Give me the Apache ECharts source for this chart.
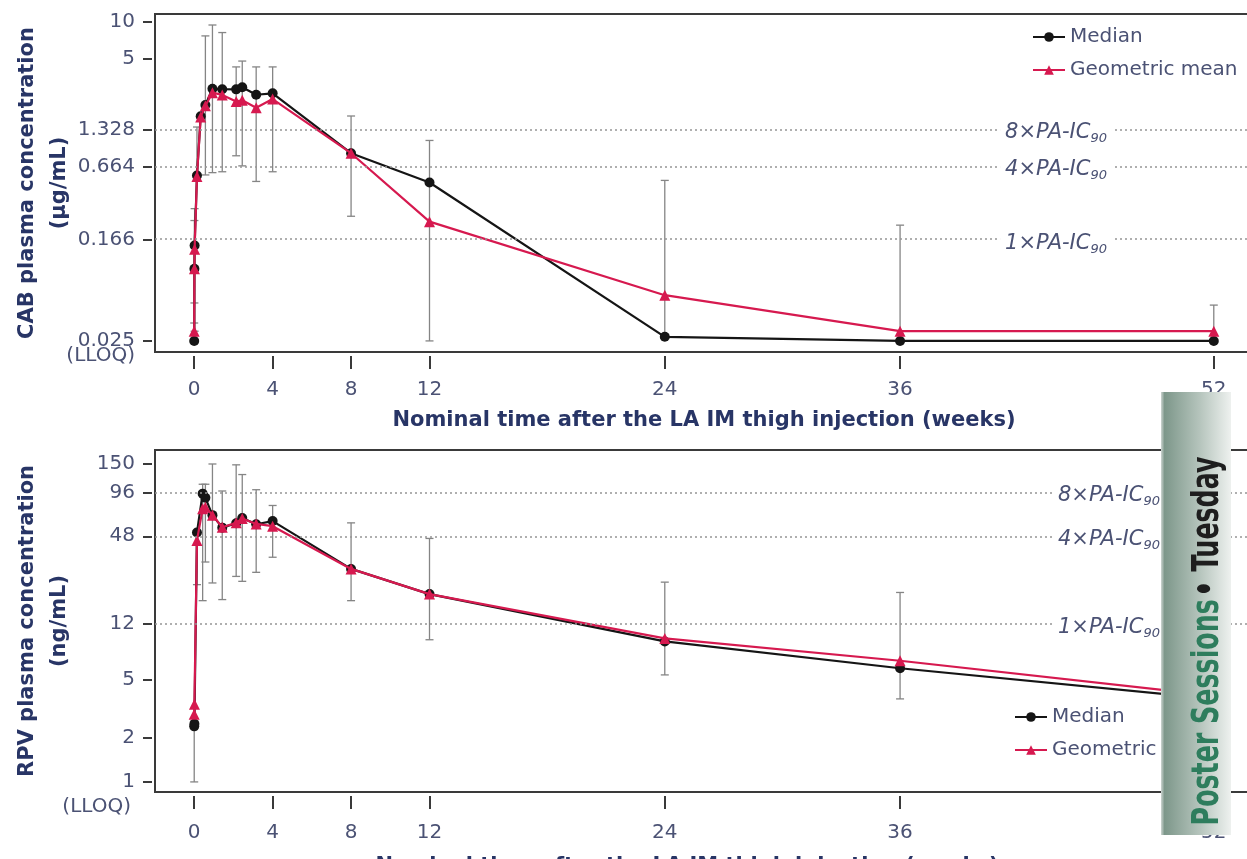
<!DOCTYPE html>
<html>
<head>
<meta charset="utf-8">
<script src="https://cdn.jsdelivr.net/npm/echarts@6/dist/echarts.min.js"></script>
<style>html,body{margin:0;padding:0;background:#fff}#c{width:1247px;height:859px}</style>
</head>
<body>
<div id="c"></div>
<script>
// ---------- data ----------
const weekTicks = [0, 4, 8, 12, 24, 36, 52];

const cabTimes   = [0, 0.01, 0.02, 0.14, 0.33, 0.57, 0.93, 1.43, 2.14, 2.45, 3.16, 4, 8, 12, 24, 36, 52];
const cabMedian  = [0.025, 0.097, 0.15, 0.56, 1.7, 2.1, 2.85, 2.83, 2.82, 2.93, 2.55, 2.62, 0.85, 0.49, 0.027, 0.025, 0.025];
const cabGeoMean = [0.030, 0.097, 0.14, 0.55, 1.68, 2.07, 2.65, 2.54, 2.25, 2.3, 2.0, 2.35, 0.85, 0.235, 0.059, 0.030, 0.030];
const cabErrLow  = [0.025, 0.051, 0.03, 0.55, null, 0.565, 0.59, 0.6, 0.81, 0.67, 0.50, 0.6, 0.26, 0.025, 0.0265, 0.025, 0.025];
const cabErrHigh = [0.035, 0.24, 0.30, 1.39, null, 7.7, 9.45, 8.2, 4.3, 4.8, 4.3, 4.3, 1.71, 1.08, 0.51, 0.22, 0.049];
const cabTicks      = [0.025, 0.166, 0.664, 1.328, 5, 10];
const cabTickLabels = ['0.025', '0.166', '0.664', '1.328', '5', '10'];
const cabRefLines   = [1.328, 0.664, 0.166];

const rpvTimes   = [0, 0.01, 0.14, 0.43, 0.57, 0.93, 1.43, 2.14, 2.45, 3.16, 4, 8, 12, 24, 36, 52];
const rpvMedian  = [2.4, 2.5, 51, 94, 88, 67, 55, 59, 64, 58, 61, 28.7, 19.3, 9.15, 6.0, 3.7];
const rpvGeoMean = [2.9, 3.4, 45, 74, 76, 67, 55.4, 59.3, 63.6, 58.3, 56.3, 28.7, 19.3, 9.6, 6.75, 3.9];
const rpvErrLow  = [1.0, null, 22.4, 17.4, 32, 23, 17.7, 25.5, 23.6, 27.2, 34.5, 17.4, 9.4, 5.4, 3.7, 2.2];
const rpvErrHigh = [2.4, null, 51, 109, 109, 150, 98, 148, 127, 100, 78, 59.3, 46.4, 23.3, 19.8, 8.5];
const rpvTicks      = [1, 2, 5, 12, 48, 96, 150];
const rpvTickLabels = ['1', '2', '5', '12', '48', '96', '150'];
const rpvRefLines   = [96, 48, 12];

const refLabels = ['8×PA-IC', '4×PA-IC', '1×PA-IC'];
const seriesNames = ['Median', 'Geometric mean'];

// ---------- styles ----------
const tickColor = '#4b5274';
const titleColor = '#283566';
const frameColor = '#3a3a3a';
const medColor = '#151515';
const gmColor = '#d6194f';
const FONT = '"DejaVu Sans", "Liberation Sans", sans-serif';

function nearestLabel(v, ticks, labels) {
  let best = 0, bd = Infinity;
  ticks.forEach((t, i) => { const d = Math.abs(Math.log(v) - Math.log(t)); if (d < bd) { bd = d; best = i; } });
  return labels[best];
}

function xAxisDef(gi, margin, nameGap, namePad) {
  return {
    type: 'value', gridIndex: gi, min: -2, max: 54, offset: 4,
    axisLine: { show: false, onZero: false },
    axisTick: { show: true, length: 13, lineStyle: { color: frameColor, width: 2 }, customValues: weekTicks },
    axisLabel: { customValues: weekTicks, margin: margin, fontSize: 20, color: tickColor, fontFamily: FONT },
    splitLine: { show: false },
    name: 'Nominal time after the LA IM thigh injection (weeks)',
    nameLocation: 'middle', nameGap: nameGap, nameMoveOverlap: false,
    nameTextStyle: { fontSize: 21, fontWeight: 'bold', color: titleColor, fontFamily: FONT, padding: namePad }
  };
}

function yAxisDef(gi, min, max, ticks, labels, name) {
  return {
    type: 'log', logBase: 10, gridIndex: gi, min: min, max: max, offset: 3,
    axisLine: { show: false, onZero: false },
    axisTick: { show: true, length: 9, lineStyle: { color: frameColor, width: 2 }, customValues: ticks },
    axisLabel: { customValues: ticks, margin: 17, fontSize: 20, color: tickColor, fontFamily: FONT,
      formatter: v => nearestLabel(v, ticks, labels) },
    splitLine: { show: false },
    minorTick: { show: false },
    name: name, nameLocation: 'middle', nameRotate: 90, nameGap: 76, nameMoveOverlap: false,
    nameTextStyle: { fontSize: 21, fontWeight: 'bold', color: titleColor, fontFamily: FONT, lineHeight: 32 }
  };
}

function lineSeries(name, gi, times, vals, color, symbol, size, z) {
  return {
    name: name, type: 'line', xAxisIndex: gi, yAxisIndex: gi,
    data: times.map((t, i) => [t, vals[i]]),
    symbol: symbol, symbolSize: size, showSymbol: true,
    lineStyle: { color: color, width: 2.2 }, itemStyle: { color: color },
    z: z, animation: false
  };
}

function errorBarSeries(gi, times, lows, highs) {
  const data = [];
  times.forEach((t, i) => { if (lows[i] != null && highs[i] != null) data.push([t, lows[i], highs[i]]); });
  return {
    type: 'custom', name: 'range', xAxisIndex: gi, yAxisIndex: gi, data: data, z: 1, silent: true,
    encode: { x: 0, y: [1, 2] }, animation: false,
    renderItem(params, api) {
      const x = api.value(0);
      const lo = api.coord([x, api.value(1)]);
      const hi = api.coord([x, api.value(2)]);
      const cw = 4;
      const st = { stroke: '#858585', lineWidth: 1.3 };
      return { type: 'group', children: [
        { type: 'line', shape: { x1: lo[0], y1: lo[1], x2: hi[0], y2: hi[1] }, style: st },
        { type: 'line', shape: { x1: lo[0] - cw, y1: lo[1], x2: lo[0] + cw, y2: lo[1] }, style: st },
        { type: 'line', shape: { x1: hi[0] - cw, y1: hi[1], x2: hi[0] + cw, y2: hi[1] }, style: st }
      ] };
    }
  };
}

function refLineSeries(gi, values) {
  return {
    type: 'line', name: 'refline', xAxisIndex: gi, yAxisIndex: gi, data: [], z: 2, silent: true,
    markLine: { silent: true, symbol: 'none', animation: false,
      lineStyle: { color: '#959595', type: [2, 3], width: 1.5 },
      label: { show: false },
      data: values.map(v => ({ yAxis: v })) }
  };
}

function refLabelSeries(gi, values, xStart) {
  return {
    type: 'line', name: 'reflabel', xAxisIndex: gi, yAxisIndex: gi, data: [], z: 6, silent: true,
    markPoint: { silent: true, symbol: 'rect', symbolSize: 0, animation: false,
      label: { show: true, position: 'right', distance: 0, backgroundColor: '#fff', padding: [0, 5],
        offset: [0, 3],
        rich: {
          t: { fontSize: 21, fontStyle: 'italic', color: tickColor, fontFamily: FONT, lineHeight: 21, verticalAlign: 'top' },
          s: { fontSize: 13, fontStyle: 'italic', color: tickColor, fontFamily: FONT, lineHeight: 14, padding: [10, 0, 0, 0], verticalAlign: 'top' }
        } },
      data: values.map((v, i) => ({ coord: [xStart, v], label: { formatter: '{t|' + refLabels[i] + '}{s|90}' } }))
    }
  };
}

const legendBase = {
  data: seriesNames, orient: 'vertical', itemWidth: 32, itemHeight: 12, itemGap: 13,
  textStyle: { fontSize: 20, color: tickColor, fontFamily: FONT }, selectedMode: false
};

const option = {
  animation: false,
  backgroundColor: '#fff',
  grid: [
    { left: 155, top: 14, width: 1098, height: 338, show: true, borderColor: frameColor, borderWidth: 2, backgroundColor: 'transparent', outerBoundsMode: 'none', containLabel: false },
    { left: 155, top: 450, width: 1098, height: 342, show: true, borderColor: frameColor, borderWidth: 2, backgroundColor: 'transparent', outerBoundsMode: 'none', containLabel: false }
  ],
  legend: [
    Object.assign({}, legendBase, { left: 1027, top: 22 }),
    Object.assign({}, legendBase, { left: 1009, top: 702 })
  ],
  xAxis: [ xAxisDef(0, 24, 54, [0, 0, 0, 0]), xAxisDef(1, 27, 60, [0, 34, 0, 0]) ],
  yAxis: [
    yAxisDef(0, 0.0203, 11.62, cabTicks, cabTickLabels, 'CAB plasma concentration\n(μg/mL)'),
    yAxisDef(1, 0.853, 187, rpvTicks, rpvTickLabels, 'RPV plasma concentration\n(ng/mL)')
  ],
  series: [
    refLineSeries(0, cabRefLines),
    refLabelSeries(0, cabRefLines, 41.1),
    errorBarSeries(0, cabTimes, cabErrLow, cabErrHigh),
    lineSeries('Median', 0, cabTimes, cabMedian, medColor, 'circle', 10, 3),
    lineSeries('Geometric mean', 0, cabTimes, cabGeoMean, gmColor, 'triangle', 11, 4),
    refLineSeries(1, rpvRefLines),
    refLabelSeries(1, rpvRefLines, 43.8),
    errorBarSeries(1, rpvTimes, rpvErrLow, rpvErrHigh),
    lineSeries('Median', 1, rpvTimes, rpvMedian, medColor, 'circle', 10, 3),
    lineSeries('Geometric mean', 1, rpvTimes, rpvGeoMean, gmColor, 'triangle', 11, 4)
  ],
  graphic: [
    { type: 'text', x: 135, y: 356, z: 50, style: { text: '(LLOQ)', fill: tickColor, font: '20px ' + FONT, textAlign: 'right', textVerticalAlign: 'middle' } },
    { type: 'text', x: 131, y: 807, z: 50, style: { text: '(LLOQ)', fill: tickColor, font: '20px ' + FONT, textAlign: 'right', textVerticalAlign: 'middle' } },
    { type: 'rect', z: 100, shape: { x: 1161, y: 392, width: 70, height: 443 },
      style: { fill: new echarts.graphic.LinearGradient(0, 0, 1, 0, [
        { offset: 0, color: '#cdd5d1' }, { offset: 0.05, color: '#7d978a' }, { offset: 0.55, color: '#b5c4bc' }, { offset: 1, color: '#eef1ef' }]) } },
    { type: 'text', z: 101, x: 1208, y: 641, rotation: Math.PI / 2, scaleX: 0.74,
      style: { text: '{g|Poster Sessions} {k|• Tuesday}', textAlign: 'center', textVerticalAlign: 'middle',
        rich: {
          g: { fill: '#2e7d5d', fontSize: 38, fontWeight: 'bold', fontFamily: '"DejaVu Sans Condensed", "Liberation Sans Narrow", sans-serif' },
          k: { fill: '#1e1e1e', fontSize: 38, fontWeight: 'bold', fontFamily: '"DejaVu Sans Condensed", "Liberation Sans Narrow", sans-serif' }
        } } }
  ]
};

const chart = echarts.init(document.getElementById('c'));
chart.setOption(option);
</script>
</body>
</html>
